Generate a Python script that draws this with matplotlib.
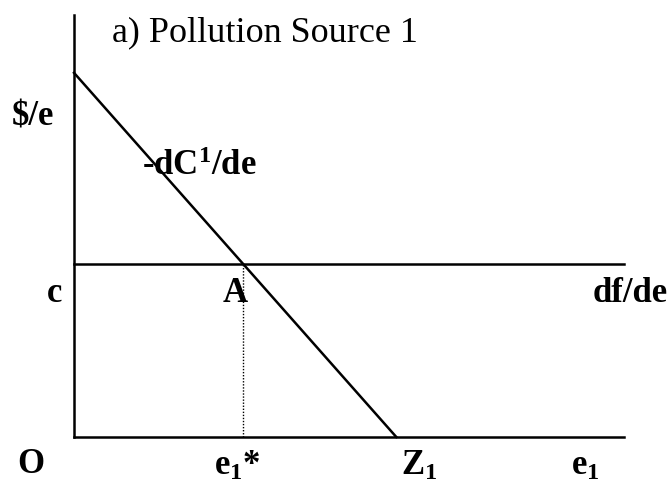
import matplotlib
matplotlib.use("Agg")
import matplotlib.pyplot as plt

# Model parameters (marginal abatement cost and emission fee)
mac_intercept = 86.3     # -dC1/de at zero emissions
z1 = 58.6                # uncontrolled emissions Z1
fee_c = 41.0             # constant marginal fee df/de = c
x_max, y_max = 100.0, 100.0

# Equilibrium emissions where -dC1/de equals c
e1_star = z1 * (1 - fee_c / mac_intercept)

plt.rcParams['font.family'] = ['Liberation Serif', 'DejaVu Serif']
plt.rcParams['mathtext.fontset'] = 'custom'
plt.rcParams['mathtext.rm'] = 'Liberation Serif'
plt.rcParams['mathtext.bf'] = 'Liberation Serif:bold'
plt.rcParams['mathtext.it'] = 'Liberation Serif:italic'

fig = plt.figure(figsize=(6.68, 4.83), dpi=100)
ax = fig.add_axes([74 / 668, (483 - 437) / 483, 550 / 668, 422 / 483])
ax.set_xlim(0, x_max)
ax.set_ylim(0, y_max)
ax.axis('off')

lw = 1.8
# axes
ax.plot([0, 0], [0, y_max], color='black', lw=lw, clip_on=False)
ax.plot([0, x_max], [0, 0], color='black', lw=lw, clip_on=False)
# marginal abatement cost curve
ax.plot([0, z1], [mac_intercept, 0], color='black', lw=lw, clip_on=False)
# fee line
ax.plot([0, x_max], [fee_c, fee_c], color='black', lw=lw, clip_on=False)
# dotted drop line at e1*
ax.plot([e1_star, e1_star], [0, fee_c], color='black', lw=1.0, ls=(0, (1, 1.2)))

bold = dict(fontweight='bold', fontsize=25, color='black')
ax.text(7.0, 95.8, 'a) Pollution Source 1', fontsize=26, ha='left', va='center')
ax.text(-7.4, 75.8, '$/e', ha='center', va='center', **bold)
ax.text(12.4, 64.0, r'-dC$^{\mathbf{1}}$/de', ha='left', va='center', **bold)
ax.text(-3.6, fee_c - 7.0, 'c', ha='center', va='center', **bold)
ax.text(e1_star - 1.4, fee_c - 7.0, 'A', ha='center', va='center', **bold)
ax.text(108.0, fee_c - 7.0, 'df/de', ha='right', va='center', **bold)
ax.text(-7.8, -6.6, 'O', ha='center', va='center', **bold)
ax.text(e1_star - 5.3, -7.0, r'e$_{\mathbf{1}}$*', ha='left', va='center', **bold)
ax.text(z1 + 0.9, -7.0, r'Z$_{\mathbf{1}}$', ha='left', va='center', **bold)
ax.text(92.9, -7.0, r'e$_{\mathbf{1}}$', ha='center', va='center', **bold)

fig.savefig('out.png', dpi=100)
